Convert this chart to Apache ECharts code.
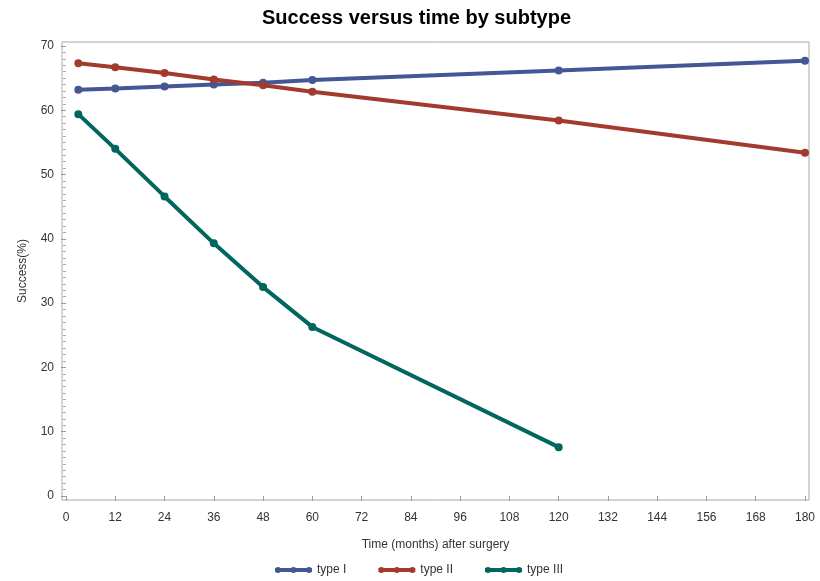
<!DOCTYPE html>
<html>
<head>
<meta charset="utf-8">
<script src="https://cdn.jsdelivr.net/npm/echarts@6/dist/echarts.min.js"></script>
<style>html,body{margin:0;padding:0;background:#fff}#c{width:820px;height:581px}</style>
</head>
<body>
<div id="c"></div>
<script>
const months = [3, 12, 24, 36, 48, 60, 120, 180];
const typeI = [63.2, 63.4, 63.7, 64.0, 64.3, 64.7, 66.2, 67.7];
const typeII = [67.3, 66.7, 65.8, 64.8, 63.9, 62.9, 58.4, 53.4];
const monthsIII = [3, 12, 24, 36, 48, 60, 120];
const typeIII = [59.4, 54.0, 46.6, 39.3, 32.5, 26.3, 7.6];
const seriesNames = ['type I', 'type II', 'type III'];
const colors = ['#445694', '#A23A2E', '#01665E'];

const pair = (xs, ys) => xs.map((x, i) => [x, ys[i]]);
const font = 'Liberation Sans, Arial, sans-serif';
const iconPath = 'path://M0,2 L37,2 L37,6 L0,6 Z M6,4 A3,3 0 1,1 0,4 A3,3 0 1,1 6,4 Z M21.5,4 A3,3 0 1,1 15.5,4 A3,3 0 1,1 21.5,4 Z M37,4 A3,3 0 1,1 31,4 A3,3 0 1,1 37,4 Z';

const chart = echarts.init(document.getElementById('c'), null, {renderer: 'canvas'});
const mk = (name, data, color) => ({
  name, type: 'line', data, xAxisIndex: 0, yAxisIndex: 0,
  symbol: 'circle', symbolSize: 8,
  lineStyle: {width: 4, color},
  itemStyle: {color},
  emphasis: {disabled: true}
});
chart.setOption({
  animation: false,
  textStyle: {fontFamily: font},
  title: {
    text: 'Success versus time by subtype', left: 257, top: 3,
    textStyle: {fontSize: 20, fontWeight: 'bold', color: '#000', fontFamily: font}
  },
  legend: {
    data: seriesNames.map((n, i) => ({name: n, icon: iconPath})),
    left: 270, top: 559, itemWidth: 37, itemHeight: 8, itemGap: 32,
    textStyle: {fontSize: 12, color: '#333', fontFamily: font}
  },
  grid: [
    {left: 66, right: 15, top: 46, bottom: 85},
    {left: 62, right: 11, top: 42, bottom: 81, show: true, borderColor: '#a8a8a8', borderWidth: 1, backgroundColor: 'transparent', z: 0}
  ],
  xAxis: [{
    type: 'value', gridIndex: 0, min: 0, max: 180, interval: 12, offset: 4,
    name: 'Time (months) after surgery', nameLocation: 'middle', nameGap: 39,
    nameTextStyle: {fontSize: 12, color: '#333', fontFamily: font},
    axisLine: {show: false},
    axisTick: {show: true, length: 5, lineStyle: {color: '#999'}},
    axisLabel: {fontSize: 12, color: '#333', margin: 12, fontFamily: font},
    splitLine: {show: false}
  }, {
    type: 'value', gridIndex: 1, show: false, min: 0, max: 1
  }],
  yAxis: [{
    type: 'value', gridIndex: 0, min: 0, max: 70, interval: 10, offset: 4,
    name: 'Success(%)', nameLocation: 'middle', nameGap: 33,
    nameTextStyle: {fontSize: 12, color: '#333', fontFamily: font},
    axisLine: {show: false},
    axisTick: {show: true, length: 5, lineStyle: {color: '#999'}},
    minorTick: {show: true, splitNumber: 10, length: 3, lineStyle: {color: '#aaa'}},
    axisLabel: {fontSize: 12, color: '#333', margin: 8, fontFamily: font},
    splitLine: {show: false}
  }, {
    type: 'value', gridIndex: 1, show: false, min: 0, max: 1
  }],
  series: [
    mk(seriesNames[0], pair(months, typeI), colors[0]),
    mk(seriesNames[1], pair(months, typeII), colors[1]),
    mk(seriesNames[2], pair(monthsIII, typeIII), colors[2])
  ]
});
</script>
</body>
</html>
